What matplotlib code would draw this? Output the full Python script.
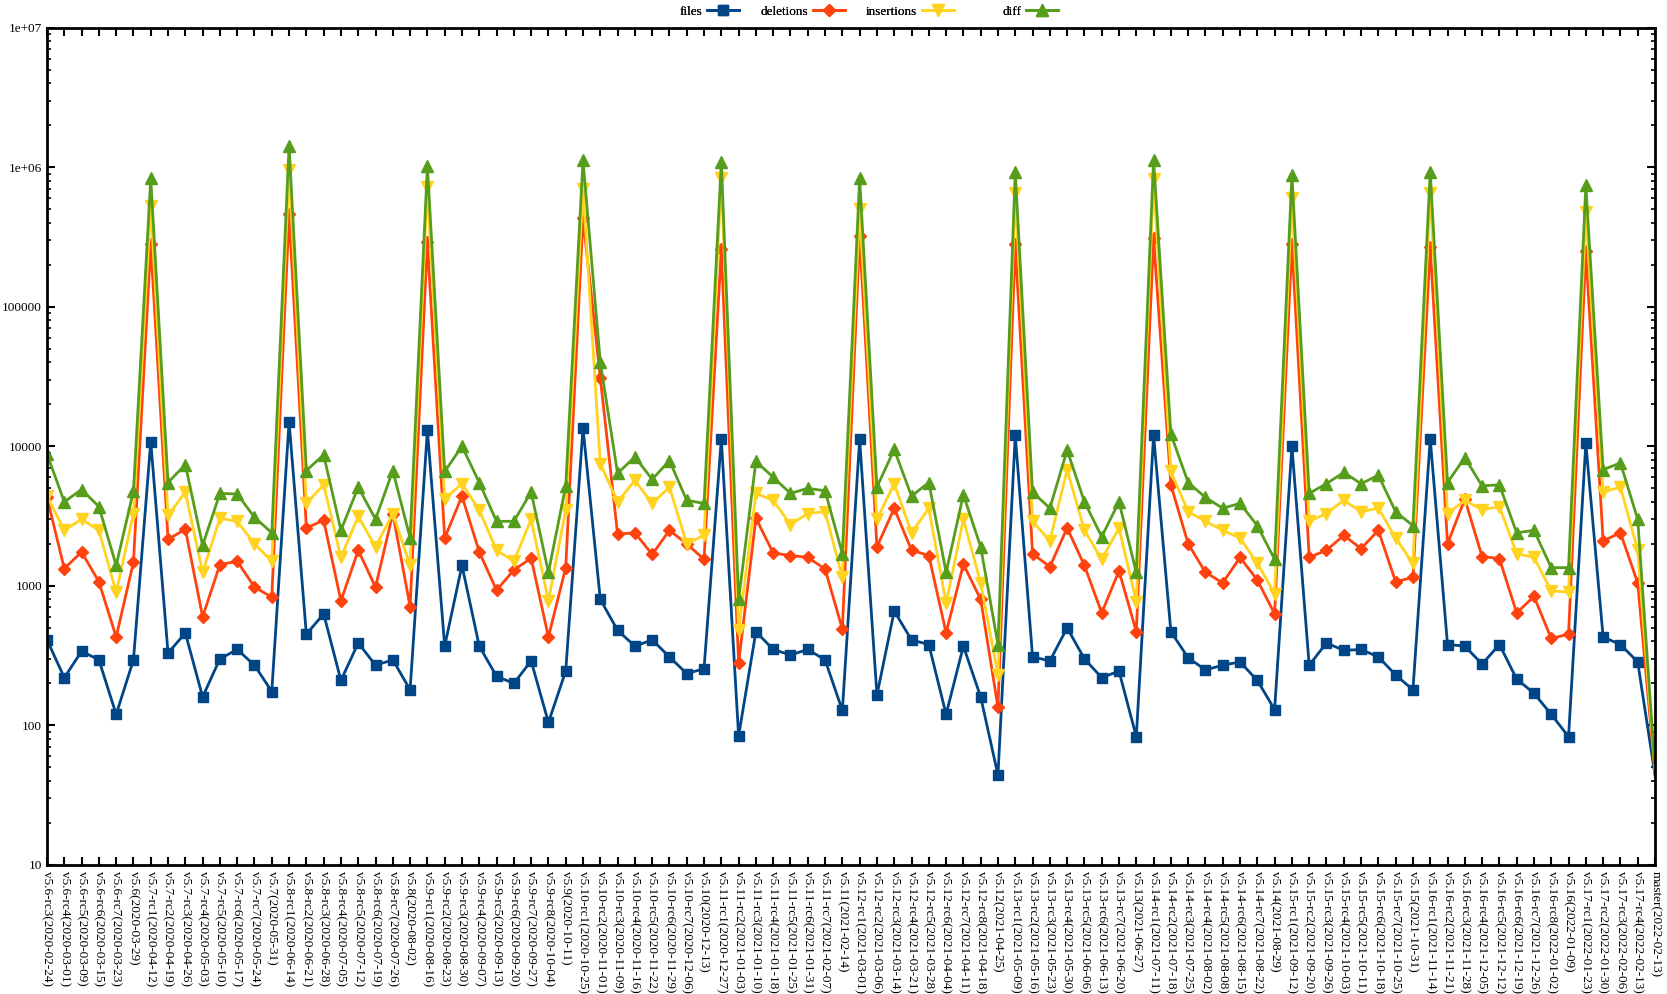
import numpy as np
import matplotlib.pyplot as plt
from matplotlib.ticker import LogLocator, NullFormatter, FixedLocator

# Tags / Releases (x-Achse)
tags = [
    "v5.6-rc3(2020-02-24)", "v5.6-rc4(2020-03-01)", "v5.6-rc5(2020-03-09)", "v5.6-rc6(2020-03-15)",
    "v5.6-rc7(2020-03-23)", "v5.6(2020-03-29)",
    "v5.7-rc1(2020-04-12)", "v5.7-rc2(2020-04-19)", "v5.7-rc3(2020-04-26)", "v5.7-rc4(2020-05-03)",
    "v5.7-rc5(2020-05-10)", "v5.7-rc6(2020-05-17)", "v5.7-rc7(2020-05-24)", "v5.7(2020-05-31)",
    "v5.8-rc1(2020-06-14)", "v5.8-rc2(2020-06-21)", "v5.8-rc3(2020-06-28)", "v5.8-rc4(2020-07-05)",
    "v5.8-rc5(2020-07-12)", "v5.8-rc6(2020-07-19)", "v5.8-rc7(2020-07-26)", "v5.8(2020-08-02)",
    "v5.9-rc1(2020-08-16)", "v5.9-rc2(2020-08-23)", "v5.9-rc3(2020-08-30)", "v5.9-rc4(2020-09-07)",
    "v5.9-rc5(2020-09-13)", "v5.9-rc6(2020-09-20)", "v5.9-rc7(2020-09-27)", "v5.9-rc8(2020-10-04)",
    "v5.9(2020-10-11)",
    "v5.10-rc1(2020-10-25)", "v5.10-rc2(2020-11-01)", "v5.10-rc3(2020-11-09)", "v5.10-rc4(2020-11-16)",
    "v5.10-rc5(2020-11-22)", "v5.10-rc6(2020-11-29)", "v5.10-rc7(2020-12-06)", "v5.10(2020-12-13)",
    "v5.11-rc1(2020-12-27)", "v5.11-rc2(2021-01-03)", "v5.11-rc3(2021-01-10)", "v5.11-rc4(2021-01-18)",
    "v5.11-rc5(2021-01-25)", "v5.11-rc6(2021-01-31)", "v5.11-rc7(2021-02-07)", "v5.11(2021-02-14)",
    "v5.12-rc1(2021-03-01)", "v5.12-rc2(2021-03-06)", "v5.12-rc3(2021-03-14)", "v5.12-rc4(2021-03-21)",
    "v5.12-rc5(2021-03-28)", "v5.12-rc6(2021-04-04)", "v5.12-rc7(2021-04-11)", "v5.12-rc8(2021-04-18)",
    "v5.12(2021-04-25)",
    "v5.13-rc1(2021-05-09)", "v5.13-rc2(2021-05-16)", "v5.13-rc3(2021-05-23)", "v5.13-rc4(2021-05-30)",
    "v5.13-rc5(2021-06-06)", "v5.13-rc6(2021-06-13)", "v5.13-rc7(2021-06-20)", "v5.13(2021-06-27)",
    "v5.14-rc1(2021-07-11)", "v5.14-rc2(2021-07-18)", "v5.14-rc3(2021-07-25)", "v5.14-rc4(2021-08-02)",
    "v5.14-rc5(2021-08-08)", "v5.14-rc6(2021-08-15)", "v5.14-rc7(2021-08-22)", "v5.14(2021-08-29)",
    "v5.15-rc1(2021-09-12)", "v5.15-rc2(2021-09-20)", "v5.15-rc3(2021-09-26)", "v5.15-rc4(2021-10-03)",
    "v5.15-rc5(2021-10-11)", "v5.15-rc6(2021-10-18)", "v5.15-rc7(2021-10-25)", "v5.15(2021-10-31)",
    "v5.16-rc1(2021-11-14)", "v5.16-rc2(2021-11-21)", "v5.16-rc3(2021-11-28)", "v5.16-rc4(2021-12-05)",
    "v5.16-rc5(2021-12-12)", "v5.16-rc6(2021-12-19)", "v5.16-rc7(2021-12-26)", "v5.16-rc8(2022-01-02)",
    "v5.16(2022-01-09)",
    "v5.17-rc1(2022-01-23)", "v5.17-rc2(2022-01-30)", "v5.17-rc3(2022-02-06)", "v5.17-rc4(2022-02-13)",
    "master(2022-02-13)",
]

files = [410, 220, 340, 295, 120, 295,
         10800, 330, 460, 160, 300, 350, 270, 175,
         15000, 450, 630, 210, 390, 270, 295, 180,
         13000, 370, 1400, 370, 225, 200, 290, 105, 245,
         13500, 800, 480, 370, 410, 310, 235, 255,
         11300, 84, 470, 350, 320, 350, 295, 128,
         11200, 165, 660, 410, 380, 120, 370, 160, 44,
         12000, 310, 290, 500, 300, 220, 245, 83,
         12000, 470, 305, 250, 270, 285, 210, 130,
         10000, 270, 390, 345, 350, 310, 230, 180,
         11300, 380, 370, 275, 380, 215, 170, 120, 83,
         10500, 430, 380, 285, 44]

deletions = [4300, 1330, 1750, 1070, 430, 1480,
             280000, 2150, 2550, 600, 1420, 1500, 980, 830,
             460000, 2600, 2950, 780, 1800, 980, 3300, 710,
             290000, 2200, 4400, 1750, 930, 1300, 1580, 430, 1350,
             430000, 31000, 2350, 2400, 1680, 2500, 2000, 1550,
             260000, 280, 3050, 1720, 1650, 1600, 1320, 490,
             320000, 1900, 3600, 1800, 1650, 460, 1430, 800, 135,
             280000, 1700, 1370, 2600, 1400, 640, 1280, 470,
             310000, 5300, 2000, 1250, 1050, 1600, 1100, 630,
             280000, 1600, 1800, 2300, 1850, 2500, 1070, 1150,
             270000, 2000, 4200, 1620, 1570, 640, 840, 420, 450,
             250000, 2100, 2400, 1050, 46]

insertions = [4400, 2500, 3000, 2500, 900, 3300,
              530000, 3200, 4700, 1250, 3050, 2900, 2000, 1500,
              950000, 3900, 5300, 1600, 3150, 1900, 3300, 1400,
              720000, 4200, 5400, 3500, 1800, 1500, 3000, 780, 3500,
              700000, 7500, 4000, 5700, 3900, 5100, 2000, 2300,
              830000, 480, 4600, 4100, 2750, 3300, 3400, 1150,
              500000, 3000, 5400, 2400, 3600, 750, 3000, 1050, 230,
              650000, 2900, 2100, 6800, 2500, 1550, 2600, 770,
              820000, 6600, 3400, 2900, 2500, 2200, 1450, 880,
              600000, 2900, 3300, 4100, 3400, 3600, 2200, 1450,
              650000, 3300, 4100, 3500, 3700, 1700, 1600, 920, 900,
              480000, 4700, 5100, 1800, 47]

diff = [8800, 4000, 4900, 3700, 1400, 4800,
        830000, 5500, 7400, 1950, 4600, 4550, 3100, 2400,
        1420000, 6700, 8700, 2500, 5100, 3000, 6700, 2200,
        1020000, 6600, 10000, 5500, 2900, 2900, 4700, 1250, 5200,
        1120000, 40000, 6400, 8400, 5800, 7900, 4100, 3900,
        1090000, 800, 7800, 6000, 4600, 5000, 4800, 1700,
        830000, 5100, 9500, 4400, 5500, 1250, 4500, 1900, 380,
        930000, 4700, 3600, 9400, 4000, 2250, 4000, 1250,
        1130000, 12200, 5500, 4300, 3600, 3900, 2700, 1550,
        880000, 4600, 5400, 6500, 5400, 6200, 3400, 2700,
        930000, 5500, 8300, 5200, 5300, 2400, 2500, 1350, 1350,
        740000, 6800, 7600, 3000, 48]

plt.rcParams['font.family'] = ['Liberation Serif', 'DejaVu Serif']

fig = plt.figure(figsize=(16.67, 9.94), dpi=100)
ax = fig.add_axes([0.0282, 0.1298, 0.9646, 0.8424])

x = np.arange(len(tags))
# Punkt am Rand (master) wird wie bei gnuplot nicht gezeichnet
mark = list(range(len(tags) - 1))

series = [
    (files, '#004586', 's', 7.5, 'files'),
    (deletions, '#ff420e', 'D', 6.5, 'deletions'),
    (insertions, '#ffd320', 'v', 8, 'insertions'),
    (diff, '#579d1c', '^', 8, 'diff'),
]
lines = []
for vals, col, mk, ms, lab in series:
    ln, = ax.plot(x, vals, color=col, lw=2, marker=mk, ms=ms, markevery=mark, label=lab)
    lines.append(ln)

ax.set_yscale('log')
ax.set_ylim(10, 1e7)
ax.set_xlim(0, len(tags) - 1)

ax.yaxis.set_major_locator(FixedLocator([10, 100, 1000, 1e4, 1e5, 1e6, 1e7]))
ax.set_yticklabels(['10', '100', '1000', '10000', '100000', '1e+06', '1e+07'])
ax.yaxis.set_minor_locator(LogLocator(base=10, subs=np.arange(2, 10), numticks=20))
ax.yaxis.set_minor_formatter(NullFormatter())

ax.set_xticks(x)
ax.set_xticklabels(tags, rotation=-90, ha='center', va='top')

ax.tick_params(which='both', direction='in', top=True, right=True, labelsize=9.5)
ax.tick_params(which='major', length=6, width=1.5)
ax.tick_params(which='minor', length=3, width=1.2)
ax.tick_params(axis='x', pad=4)
for s in ax.spines.values():
    s.set_linewidth(2)

# Legende oben: je Eintrag eine eigene Legende, Text rechtsbuendig vor dem Symbol
key_right = [739, 845, 954, 1058]  # rechte Kante der Symbole in Pixel
for ln, xr in zip(lines, key_right):
    leg = fig.legend(handles=[ln], loc='center right', bbox_to_anchor=(xr / 1667, 0.988),
                     frameon=False, markerfirst=False, handlelength=2.4, handletextpad=0.4,
                     fontsize=9.5, borderpad=0, borderaxespad=0)
    fig.add_artist(leg)

fig.savefig('out.png', dpi=100)
